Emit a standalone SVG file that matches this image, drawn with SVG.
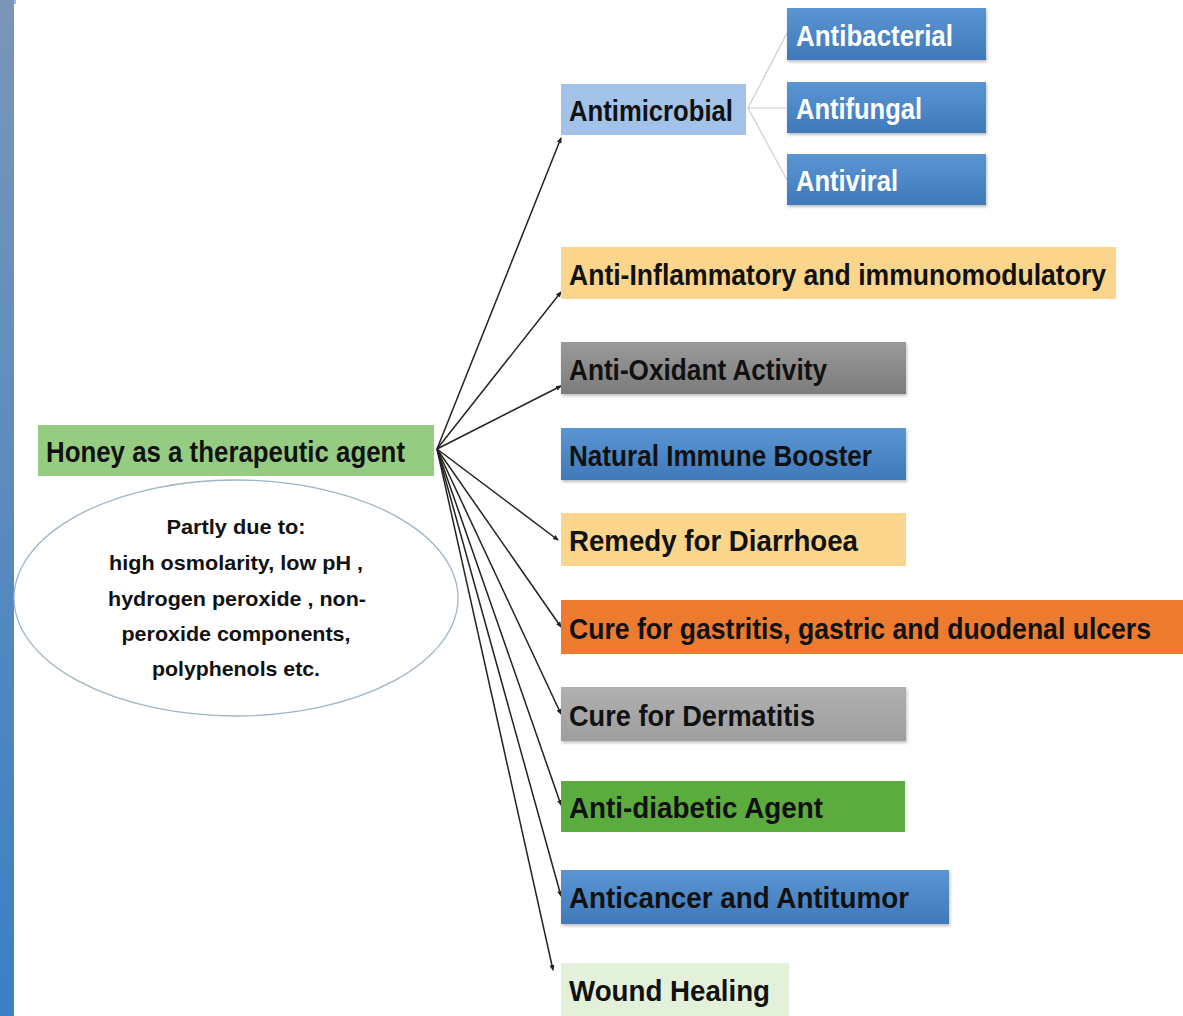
<svg xmlns="http://www.w3.org/2000/svg" width="1183" height="1016" viewBox="0 0 1183 1016">
<defs>
<linearGradient id="bar" x1="0" y1="0" x2="0" y2="1"><stop offset="0" stop-color="#7a96b9"/><stop offset="1" stop-color="#3b7fc4"/></linearGradient>
<linearGradient id="blue" x1="0" y1="0" x2="0" y2="1"><stop offset="0" stop-color="#5b95d3"/><stop offset="1" stop-color="#3f79ba"/></linearGradient>
<linearGradient id="gray" x1="0" y1="0" x2="0" y2="1"><stop offset="0" stop-color="#9a9a9a"/><stop offset="1" stop-color="#7c7c7c"/></linearGradient>
<linearGradient id="lgray" x1="0" y1="0" x2="0" y2="1"><stop offset="0" stop-color="#b0b0b0"/><stop offset="1" stop-color="#9e9e9e"/></linearGradient>
<filter id="sh" x="-5%" y="-10%" width="110%" height="130%"><feDropShadow dx="1" dy="2" stdDeviation="1.5" flood-color="#000" flood-opacity="0.25"/></filter>
<marker id="dot" markerWidth="6" markerHeight="6" refX="5" refY="3" orient="auto" markerUnits="userSpaceOnUse"><path d="M0,0.5 L6,3 L0,5.5 Z" fill="#222"/></marker>
</defs>
<style>
.t{font-family:"Liberation Sans",Arial,sans-serif;font-weight:bold;font-size:29px;fill:#111}
.w{fill:#fff}
.e{font-family:"Liberation Sans",Arial,sans-serif;font-weight:bold;font-size:21px;fill:#111;text-anchor:middle}
.c{stroke:#222;stroke-width:1.5;fill:none;marker-end:url(#dot)}
.s{stroke:#c3cfdc;stroke-width:1.2;fill:none}
</style>
<rect x="0" y="0" width="1183" height="1016" fill="#fff"/>
<rect x="0" y="0" width="14" height="1016" fill="url(#bar)"/>
<rect x="14" y="0" width="2" height="4" fill="#9fbde0"/>

<g id="connectors">
<line class="c" x1="437" y1="449" x2="561" y2="138"/>
<line class="c" x1="437" y1="449" x2="561" y2="292"/>
<line class="c" x1="437" y1="449" x2="561" y2="386"/>
<line class="c" x1="437" y1="449" x2="558" y2="540"/>
<line class="c" x1="437" y1="449" x2="561" y2="627"/>
<line class="c" x1="437" y1="449" x2="561" y2="714"/>
<line class="c" x1="437" y1="449" x2="561" y2="805"/>
<line class="c" x1="437" y1="449" x2="561" y2="896"/>
<line class="c" x1="437" y1="449" x2="553" y2="970"/>
<line class="s" x1="748" y1="108" x2="787" y2="33"/>
<line class="s" x1="748" y1="108" x2="787" y2="108"/>
<line class="s" x1="748" y1="108" x2="787" y2="180"/>
</g>

<g id="honey">
<rect x="38" y="425" width="396" height="51" fill="#96cc82"/>
<text class="t" x="46" y="462" textLength="359" lengthAdjust="spacingAndGlyphs">Honey as a therapeutic agent</text>
</g>

<g id="reasons">
<ellipse cx="236" cy="598" rx="222" ry="118" fill="#fff" stroke="#9fb3c9" stroke-width="1.3"/>
<text class="e" x="236" y="534" textLength="139" lengthAdjust="spacingAndGlyphs">Partly due to:</text>
<text class="e" x="236" y="570" textLength="254" lengthAdjust="spacingAndGlyphs">high osmolarity, low pH ,</text>
<text class="e" x="237" y="606" textLength="258" lengthAdjust="spacingAndGlyphs">hydrogen peroxide , non-</text>
<text class="e" x="236" y="641" textLength="229" lengthAdjust="spacingAndGlyphs">peroxide components,</text>
<text class="e" x="236" y="676" textLength="168" lengthAdjust="spacingAndGlyphs">polyphenols etc.</text>
</g>

<g id="antimicrobial">
<rect x="561" y="84" width="185" height="51" fill="#a3c2e8"/>
<text class="t" x="569" y="121" textLength="164" lengthAdjust="spacingAndGlyphs">Antimicrobial</text>
</g>
<g id="antibacterial">
<rect x="787" y="8" width="199" height="52" fill="url(#blue)" filter="url(#sh)"/>
<text class="t w" x="796" y="46" textLength="157" lengthAdjust="spacingAndGlyphs">Antibacterial</text>
</g>
<g id="antifungal">
<rect x="787" y="82" width="199" height="51" fill="url(#blue)" filter="url(#sh)"/>
<text class="t w" x="796" y="119" textLength="126" lengthAdjust="spacingAndGlyphs">Antifungal</text>
</g>
<g id="antiviral">
<rect x="787" y="154" width="199" height="51" fill="url(#blue)" filter="url(#sh)"/>
<text class="t w" x="796" y="191" textLength="102" lengthAdjust="spacingAndGlyphs">Antiviral</text>
</g>

<g id="anti-inflammatory">
<rect x="561" y="247" width="555" height="52" fill="#fbd58c"/>
<text class="t" x="569" y="285" textLength="537" lengthAdjust="spacingAndGlyphs">Anti-Inflammatory and immunomodulatory</text>
</g>
<g id="anti-oxidant">
<rect x="561" y="342" width="345" height="52" fill="url(#gray)" filter="url(#sh)"/>
<text class="t" x="569" y="380" textLength="258" lengthAdjust="spacingAndGlyphs">Anti-Oxidant Activity</text>
</g>
<g id="immune">
<rect x="561" y="428" width="345" height="52" fill="url(#blue)" filter="url(#sh)"/>
<text class="t" x="569" y="466" textLength="303" lengthAdjust="spacingAndGlyphs">Natural Immune Booster</text>
</g>
<g id="diarrhoea">
<rect x="561" y="513" width="345" height="53" fill="#fbd58c"/>
<text class="t" x="569" y="551" textLength="289" lengthAdjust="spacingAndGlyphs">Remedy for Diarrhoea</text>
</g>
<g id="gastritis">
<rect x="561" y="600" width="622" height="54" fill="#ec7b2f"/>
<text class="t" x="569" y="639" textLength="582" lengthAdjust="spacingAndGlyphs">Cure for gastritis, gastric and duodenal ulcers</text>
</g>
<g id="dermatitis">
<rect x="561" y="687" width="345" height="54" fill="url(#lgray)" filter="url(#sh)"/>
<text class="t" x="569" y="726" textLength="246" lengthAdjust="spacingAndGlyphs">Cure for Dermatitis</text>
</g>
<g id="antidiabetic">
<rect x="561" y="781" width="344" height="51" fill="#5cab3e"/>
<text class="t" x="569" y="818" textLength="254" lengthAdjust="spacingAndGlyphs">Anti-diabetic Agent</text>
</g>
<g id="anticancer">
<rect x="561" y="870" width="388" height="54" fill="url(#blue)" filter="url(#sh)"/>
<text class="t" x="569" y="908" textLength="340" lengthAdjust="spacingAndGlyphs">Anticancer and Antitumor</text>
</g>
<g id="wound">
<rect x="561" y="963" width="228" height="53" fill="#e3f0da"/>
<text class="t" x="569" y="1001" textLength="201" lengthAdjust="spacingAndGlyphs">Wound Healing</text>
</g>
</svg>
